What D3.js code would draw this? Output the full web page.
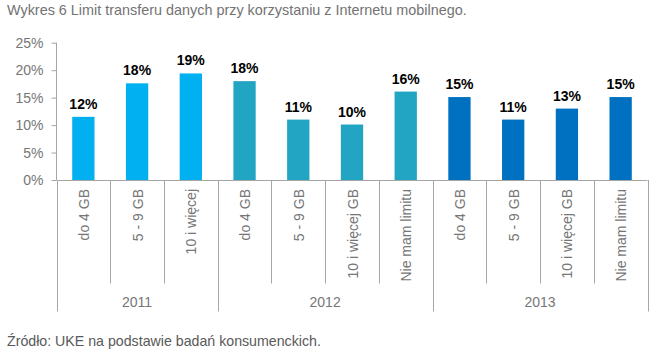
<!DOCTYPE html>
<html><head><meta charset="utf-8">
<script src="https://cdn.jsdelivr.net/npm/d3@7"></script>
<style>
body{margin:0;background:#fff;}
svg{display:block;font-family:"Liberation Sans",Arial,sans-serif;}
</style></head>
<body>
<svg id="chart" width="655" height="357"></svg>
<script>
const title = "Wykres 6 Limit transferu danych przy korzystaniu z Internetu mobilnego.";
const source = "Źródło: UKE na podstawie badań konsumenckich.";
const categories = ["do 4 GB","5 - 9 GB","10 i więcej","do 4 GB","5 - 9 GB","10 i więcej GB","Nie mam limitu","do 4 GB","5 - 9 GB","10 i więcej GB","Nie mam limitu"];
const years = ["2011","2011","2011","2012","2012","2012","2012","2013","2013","2013","2013"];
const groups = ["2011","2012","2013"];
const values = [11.5, 17.6, 19.4, 18.0, 11.0, 10.1, 16.1, 15.1, 11.0, 13.0, 15.1];
const valueLabels = ["12%","18%","19%","18%","11%","10%","16%","15%","11%","13%","15%"];
const yTicks = [0,5,10,15,20,25];
const colors = {"2011":"#00B0F0","2012":"#22A5C3","2013":"#0070C0"};

const svg = d3.select("#chart");
const left = 56.5, right = 647.5, y0 = 180, yTop = 42.7;
const y = d3.scaleLinear().domain([0,25]).range([y0, yTop]);
const idx = d3.range(categories.length);
const x = d3.scaleBand().domain(idx).range([left, right]).padding(0);
const bw = x.bandwidth()*0.415;
const grey = "#a6a6a6";

svg.append("text").attr("x",7).attr("y",15).attr("fill","#737373").attr("font-size","14.4px").text(title);
svg.append("text").attr("x",7).attr("y",346).attr("fill","#595959").attr("font-size","14.2px").text(source);

// y axis
const yAxis = d3.axisLeft(y).tickValues(yTicks).tickFormat(d=>d+"%").tickSize(5).tickPadding(8);
const gy = svg.append("g").attr("transform",`translate(${left},0)`).call(yAxis);
gy.select(".domain").attr("stroke",grey).attr("d",`M0,${yTop}V${y0}`);
gy.selectAll(".tick line").attr("stroke",grey);
gy.selectAll(".tick text").attr("fill","#767676").attr("font-size","14px").attr("font-family","Liberation Sans, Arial, sans-serif");

// bars
svg.append("g").selectAll("rect").data(idx).join("rect")
  .attr("x",i=>x(i)+(x.bandwidth()-bw)/2)
  .attr("width",bw)
  .attr("y",i=>y(values[i]))
  .attr("height",i=>y(0)-y(values[i]))
  .attr("fill",i=>colors[years[i]]);

// value labels
svg.append("g").selectAll("text").data(idx).join("text")
  .attr("x",i=>x(i)+x.bandwidth()/2)
  .attr("y",i=>y(values[i])-8)
  .attr("text-anchor","middle")
  .attr("font-size","14px").attr("font-weight","bold").attr("fill","#000")
  .text(i=>valueLabels[i]);

// x axis line
svg.append("line").attr("x1",left).attr("x2",right).attr("y1",y0+0.5).attr("y2",y0+0.5).attr("stroke",grey);

// separators
const bounds = d3.range(categories.length+1).map(i=> i<categories.length ? x(i) : right);
bounds.forEach((bx,i)=>{
  const isGroup = i===0 || i===categories.length || years[i]!==years[i-1];
  svg.append("line").attr("x1",Math.round(bx)+0.5).attr("x2",Math.round(bx)+0.5)
    .attr("y1",y0).attr("y2",isGroup?311.5:283.5).attr("stroke",grey);
});

// category labels
svg.append("g").selectAll("text").data(idx).join("text")
  .attr("transform",i=>`translate(${x(i)+x.bandwidth()/2+5.5},189) rotate(-90)`)
  .attr("text-anchor","end")
  .attr("font-size","14px").attr("fill","#767676")
  .text(i=>categories[i]);

// year labels
groups.forEach(g=>{
  const ii = idx.filter(i=>years[i]===g);
  const x1 = x(ii[0]), x2 = x(ii[ii.length-1])+x.bandwidth();
  svg.append("text").attr("x",(x1+x2)/2).attr("y",306.5).attr("text-anchor","middle")
    .attr("font-size","14px").attr("fill","#767676").text(g);
});
</script>
</body></html>
